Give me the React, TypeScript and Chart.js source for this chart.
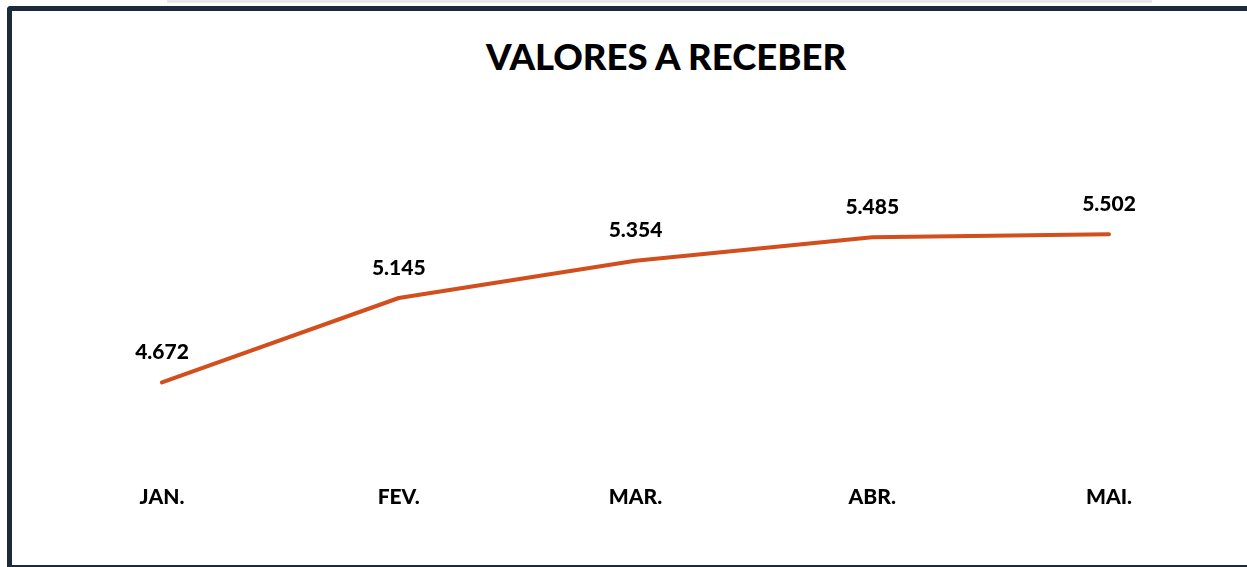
import React, { useEffect, useRef } from "react";
import { Chart, registerables } from "chart.js";

Chart.register(...registerables);

const TITLE = "VALORES A RECEBER";
const MONTHS = ["JAN.", "FEV.", "MAR.", "ABR.", "MAI."];
const VALUES = [4.672, 5.145, 5.354, 5.485, 5.502];
const VALUE_LABELS = ["4.672", "5.145", "5.354", "5.485", "5.502"];

const FONT = "Lato, 'Open Sans', sans-serif";

const labelPlugin = {
  id: "valueLabels",
  afterDatasetsDraw(chart: any) {
    const ctx = chart.ctx;
    const meta = chart.getDatasetMeta(0);
    ctx.save();
    ctx.fillStyle = "#000000";
    ctx.font = `900 21px ${FONT}`;
    ctx.textAlign = "center";
    ctx.textBaseline = "middle";
    meta.data.forEach((pt: any, i: number) => {
      ctx.fillText(VALUE_LABELS[i], pt.x, pt.y - 30);
    });
    ctx.restore();
  },
};

export default function App() {
  const ref = useRef<HTMLCanvasElement | null>(null);
  useEffect(() => {
    if (!ref.current) return;
    const chart = new Chart(ref.current, {
      type: "line",
      data: {
        labels: MONTHS,
        datasets: [
          {
            data: VALUES,
            borderColor: "#D24E1C",
            borderWidth: 4,
            borderCapStyle: "round",
            borderJoinStyle: "round",
            pointRadius: 0,
            tension: 0,
            fill: false,
          },
        ],
      },
      options: {
        animation: false,
        responsive: false,
        maintainAspectRatio: false,
        layout: { padding: { left: 162, right: 138, top: 181, bottom: 39 } },
        plugins: { legend: { display: false }, tooltip: { enabled: false }, title: { display: false } },
        scales: {
          x: {
            offset: false,
            grid: { display: false, drawTicks: false },
            border: { display: false },
            ticks: {
              color: "#000000",
              font: { family: FONT, size: 21, weight: "900" },
              padding: 18,
              maxRotation: 0,
            },
          },
          y: {
            display: false,
            min: 4.2,
            max: 5.8,
          },
        },
      },
      plugins: [labelPlugin],
    });
    return () => chart.destroy();
  }, []);

  return (
    <div style={{ position: "fixed", left: 0, top: 0, width: 1247, height: 567, overflow: "hidden", background: "#ffffff" }}>
      <div style={{ position: "absolute", left: 167, top: 0, width: 985, height: 3, background: "#e8e8e8" }} />
      <div
        style={{
          position: "absolute",
          left: 7,
          top: 6,
          width: 1260,
          height: 561,
          boxSizing: "border-box",
          borderLeft: "5px solid #1c2a3e",
          borderTop: "5px solid #1c2a3e",
          borderBottom: "2px solid #1c2a3e",
          borderTopLeftRadius: 4,
        }}
      />
      <div
        style={{
          position: "absolute",
          left: 366,
          width: 600,
          top: 32,
          textAlign: "center",
          fontFamily: FONT,
          fontWeight: 900,
          fontSize: 36.5,
          lineHeight: "48px",
          color: "#000000",
        }}
      >
        {TITLE}
      </div>
      <canvas ref={ref} width={1247} height={567} style={{ position: "absolute", left: 0, top: 0, width: 1247, height: 567 }} />
    </div>
  );
}
